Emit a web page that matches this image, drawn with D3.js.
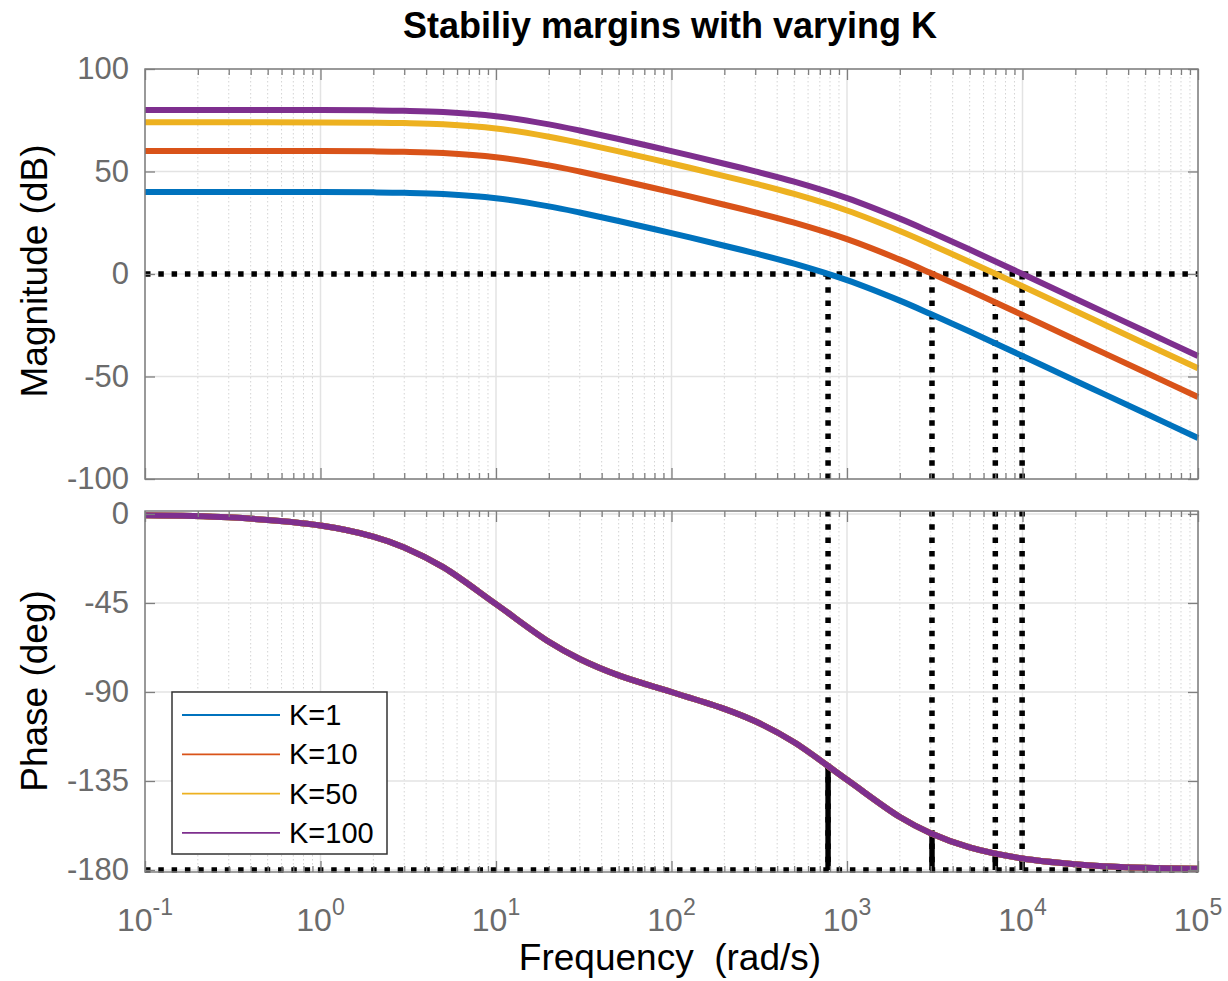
<!DOCTYPE html>
<html>
<head>
<meta charset="utf-8">
<script src="https://d3js.org/d3.v7.min.js"></script>
<style>
body { margin: 0; background: #fff; }
text { font-family: "Liberation Sans", Arial, Helvetica, sans-serif; }
</style>
</head>
<body>
<div id="chart"></div>
<script>
// frequency points (rad/s) and values
var freq = [0.1, 0.3, 1, 2, 3, 5, 10, 20, 30, 50, 100, 200, 300, 500, 1000, 2000, 3000, 5000, 10000, 20000, 30000, 50000, 100000];
var magK1 = [40.0, 40.0, 39.96, 39.83, 39.63, 39.03, 36.99, 33.0, 30.0, 25.84, 19.92, 13.8, 10.08, 5.05, -3.01, -13.0, -19.54, -28.1, -40.0, -52.05, -59.09, -67.96, -80.0];
var magK10 = [60.0, 60.0, 59.96, 59.83, 59.63, 59.03, 56.99, 53.0, 50.0, 45.84, 39.92, 33.8, 30.08, 25.05, 16.99, 7.0, 0.46, -8.1, -20.0, -32.05, -39.09, -47.96, -60.0];
var magK50 = [73.98, 73.98, 73.94, 73.81, 73.61, 73.01, 70.97, 66.98, 63.98, 59.82, 53.9, 47.78, 44.06, 39.03, 30.97, 20.98, 14.44, 5.88, -6.02, -18.07, -25.11, -33.98, -46.02];
var magK100 = [80.0, 80.0, 79.96, 79.83, 79.63, 79.03, 76.99, 73.0, 70.0, 65.84, 59.92, 53.8, 50.08, 45.05, 36.99, 27.0, 20.46, 11.9, 0.0, -12.05, -19.09, -27.96, -40.0];
var phaseDeg = [-0.6, -1.7, -5.8, -11.4, -16.9, -26.9, -45.6, -64.6, -73.3, -81.6, -90.0, -98.5, -104.8, -115.4, -134.4, -153.2, -161.4, -168.6, -174.2, -177.1, -178.1, -178.9, -179.4];

var seriesNames = ["K=1", "K=10", "K=50", "K=100"];
var seriesColors = ["#0072BD", "#D95319", "#EDB120", "#7E2F8E"];
var magSeries = [magK1, magK10, magK50, magK100];

// gain crossover frequencies and the phase there
var crossFreq = [780, 3050, 7000, 9950];
var crossPhase = [-127.2, -161.6, -171.8, -174.2];

var magTicks = [-100, -50, 0, 50, 100];
var phaseTicks = [-180, -135, -90, -45, 0];
var decades = [0.1, 1, 10, 100, 1000, 10000, 100000];
var decadeExp = ["-1", "0", "1", "2", "3", "4", "5"];

var width = 1228, height = 981;
var left = 145, right = 1198;

var svg = d3.select("#chart").append("svg")
    .attr("width", width)
    .attr("height", height);

var x = d3.scaleLog().domain([0.1, 1e5]).range([left, right]);
var yMag = d3.scaleLinear().domain([-100, 100]).range([479, 69]);
var yPh = d3.scaleLinear().domain([-181, 1.5]).range([872, 511]);

var minorTicks = x.ticks().filter(function (t) {
    return decades.indexOf(t) < 0;
});

function drawFrame(y, yTicks) {
    var top = y.range()[1], bottom = y.range()[0];
    var g = svg.append("g");
    g.append("rect")
        .attr("x", left).attr("y", top)
        .attr("width", right - left).attr("height", bottom - top)
        .style("fill", "white");
    // minor grid
    g.selectAll(".minor").data(minorTicks).enter().append("line")
        .attr("x1", function (d) { return x(d); })
        .attr("x2", function (d) { return x(d); })
        .attr("y1", top).attr("y2", bottom)
        .style("stroke", "#d4d4d4")
        .style("stroke-width", 1)
        .style("stroke-dasharray", "1.5 2.5");
    // major grid
    g.selectAll(".vmajor").data(decades).enter().append("line")
        .attr("x1", function (d) { return x(d); })
        .attr("x2", function (d) { return x(d); })
        .attr("y1", top).attr("y2", bottom)
        .style("stroke", "#e3e3e3")
        .style("stroke-width", 1.5);
    g.selectAll(".hmajor").data(yTicks).enter().append("line")
        .attr("x1", left).attr("x2", right)
        .attr("y1", function (d) { return y(d); })
        .attr("y2", function (d) { return y(d); })
        .style("stroke", "#e3e3e3")
        .style("stroke-width", 1.5);
    return g;
}

function drawAxes(y, yTicks, withXLabels) {
    var top = y.range()[1], bottom = y.range()[0];
    var g = svg.append("g");
    var axes = [
        d3.axisBottom(x).tickValues(minorTicks).tickSize(-6),
        d3.axisBottom(x).tickValues(decades).tickSize(-11)
    ];
    axes.forEach(function (ax) {
        g.append("g").attr("transform", "translate(0," + bottom + ")").call(ax.tickFormat(""));
        var axTop = d3.axisTop(x).tickValues(ax.tickValues()).tickSize(ax.tickSize()).tickFormat("");
        g.append("g").attr("transform", "translate(0," + top + ")").call(axTop);
    });
    g.append("g").attr("class", "ylab")
        .attr("transform", "translate(" + left + ",0)")
        .call(d3.axisLeft(y).tickValues(yTicks).tickSize(-10).tickPadding(16)
            .tickFormat(function (d) { return String(d); }));
    g.append("g")
        .attr("transform", "translate(" + right + ",0)")
        .call(d3.axisRight(y).tickValues(yTicks).tickSize(-10).tickFormat(""));
    g.selectAll(".domain").remove();
    g.selectAll(".tick line").style("stroke", "#7f7f7f").style("stroke-width", 1.3);
    g.selectAll(".ylab text")
        .style("font-size", "31px")
        .style("font-family", "'Liberation Sans', Arial, sans-serif")
        .style("fill", "#6b6b6b");
    g.append("rect")
        .attr("x", left).attr("y", top)
        .attr("width", right - left).attr("height", bottom - top)
        .style("fill", "none")
        .style("stroke", "#7f7f7f")
        .style("stroke-width", 1.5);
    if (withXLabels) {
        var lab = g.selectAll(".xlab").data(decades).enter().append("text")
            .attr("x", function (d) { return x(d); })
            .attr("y", 931)
            .attr("text-anchor", "middle")
            .style("fill", "#6b6b6b")
            .style("font-size", "32px");
        lab.append("tspan").text("10");
        lab.append("tspan")
            .attr("dy", -16)
            .style("font-size", "23px")
            .text(function (d, i) { return decadeExp[i]; });
    }
}

function dotted(g, x1, y1, x2, y2) {
    g.append("line")
        .attr("x1", x1).attr("y1", y1).attr("x2", x2).attr("y2", y2)
        .style("stroke", "black")
        .style("stroke-width", 5.5)
        .style("stroke-dasharray", "5.5 7.8");
}

var magLine = d3.line()
    .x(function (d) { return x(d[0]); })
    .y(function (d) { return yMag(d[1]); })
    .curve(d3.curveCatmullRom);
var phLine = d3.line()
    .x(function (d) { return x(d[0]); })
    .y(function (d) { return yPh(d[1]); })
    .curve(d3.curveCatmullRom);

// magnitude panel
var gMag = drawFrame(yMag, magTicks);
dotted(gMag, left, yMag(0), right, yMag(0));
crossFreq.forEach(function (f) {
    dotted(gMag, x(f), yMag(0), x(f), yMag(-100));
});
magSeries.forEach(function (s, i) {
    gMag.append("path")
        .datum(freq.map(function (f, j) { return [f, s[j]]; }))
        .attr("d", magLine)
        .style("fill", "none")
        .style("stroke", seriesColors[i])
        .style("stroke-width", 6);
});
drawAxes(yMag, magTicks, false);

// phase panel
var gPh = drawFrame(yPh, phaseTicks);
dotted(gPh, left, yPh(-180), right, yPh(-180));
crossFreq.forEach(function (f, i) {
    dotted(gPh, x(f), yPh(1.5), x(f), yPh(-180));
    gPh.append("line")
        .attr("x1", x(f)).attr("x2", x(f))
        .attr("y1", yPh(crossPhase[i])).attr("y2", yPh(-180))
        .style("stroke", "black")
        .style("stroke-width", 5.5);
});
seriesColors.forEach(function (c) {
    gPh.append("path")
        .datum(freq.map(function (f, j) { return [f, phaseDeg[j]]; }))
        .attr("d", phLine)
        .style("fill", "none")
        .style("stroke", c)
        .style("stroke-width", 6);
});
drawAxes(yPh, phaseTicks, true);

// legend
var legend = svg.append("g").attr("transform", "translate(172,692)");
legend.append("rect")
    .attr("width", 215).attr("height", 162)
    .style("fill", "white")
    .style("stroke", "#333")
    .style("stroke-width", 1.5);
seriesNames.forEach(function (name, i) {
    var ly = 23 + i * 39.3;
    legend.append("line")
        .attr("x1", 10).attr("x2", 108)
        .attr("y1", ly).attr("y2", ly)
        .style("stroke", seriesColors[i])
        .style("stroke-width", 1.8);
    legend.append("text")
        .attr("x", 117).attr("y", ly + 10)
        .style("font-size", "29px")
        .style("fill", "black")
        .text(name);
});

// titles
svg.append("text")
    .attr("x", 670).attr("y", 38)
    .attr("text-anchor", "middle")
    .style("font-size", "36px")
    .style("font-weight", "bold")
    .text("Stabiliy margins with varying K");
svg.append("text")
    .attr("x", 670).attr("y", 970)
    .attr("text-anchor", "middle")
    .style("font-size", "37px")
    .style("white-space", "pre")
    .text("Frequency  (rad/s)");
svg.append("text")
    .attr("transform", "translate(47,271) rotate(-90)")
    .attr("text-anchor", "middle")
    .style("font-size", "37px")
    .text("Magnitude (dB)");
svg.append("text")
    .attr("transform", "translate(47,691) rotate(-90)")
    .attr("text-anchor", "middle")
    .style("font-size", "37px")
    .text("Phase (deg)");
</script>
</body>
</html>
